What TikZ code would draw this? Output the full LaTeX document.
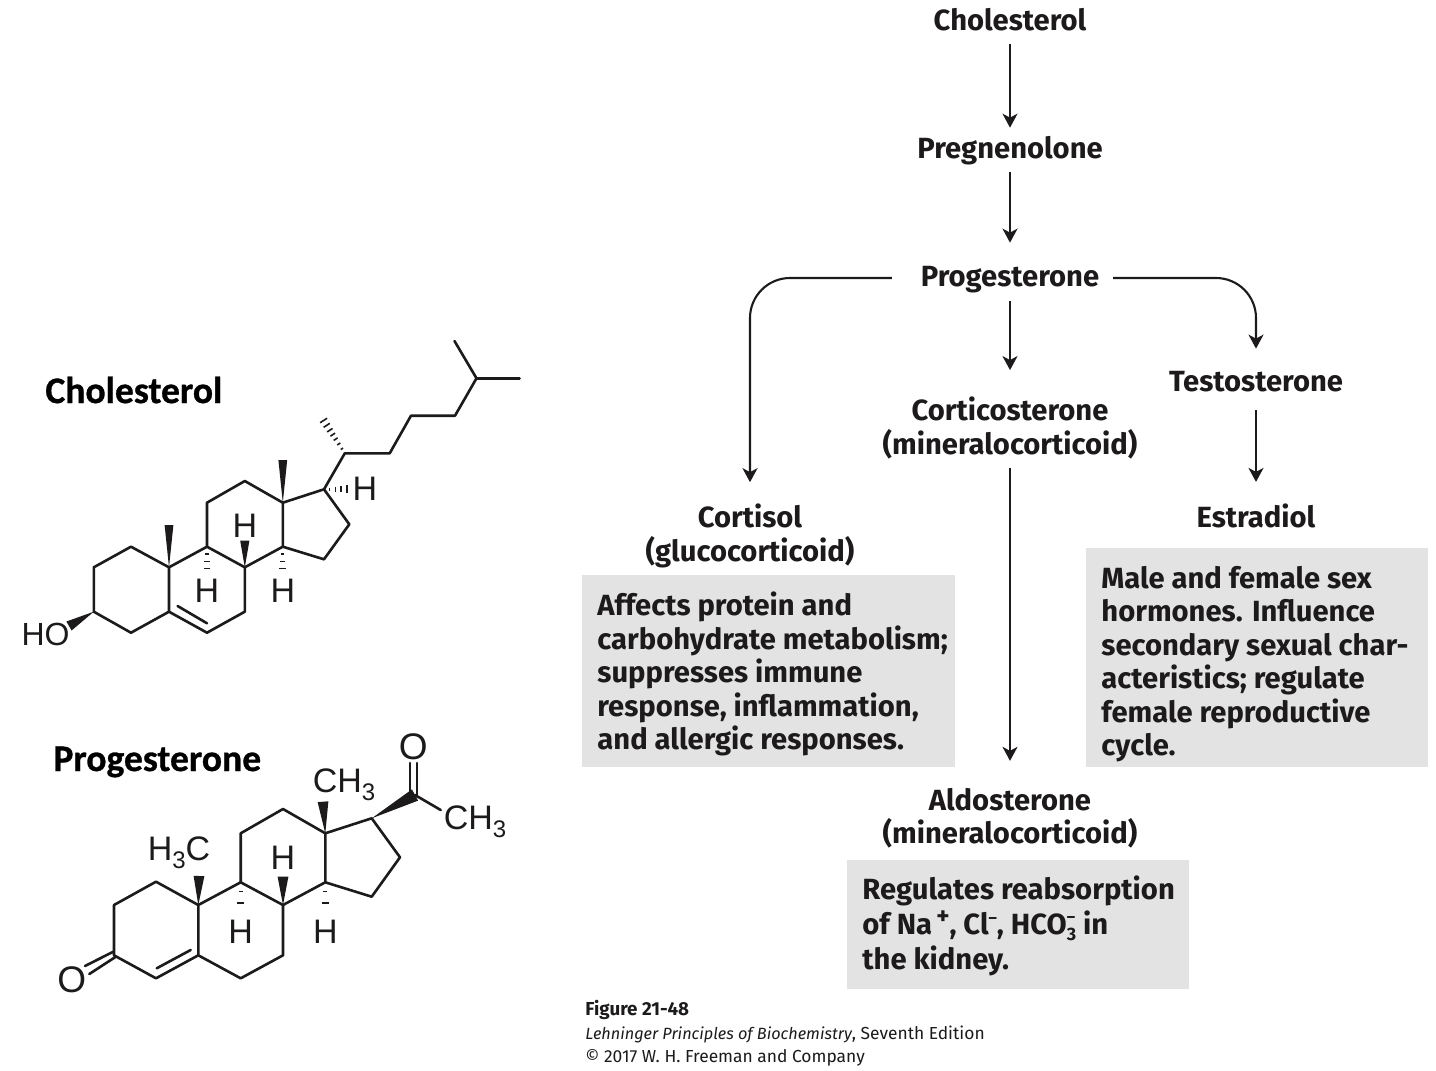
\documentclass[tikz,border=0pt]{standalone}
\usepackage{fontspec}
\setmainfont{Fira Sans}
\newfontfamily\chemfont{Liberation Sans}
\newfontfamily\titlefont[BoldFeatures={FakeBold=0.8}]{Carlito}
\usetikzlibrary{arrows.meta,calc}
\definecolor{boxgray}{HTML}{E3E3E3}
\definecolor{inkc}{HTML}{1C1A1A}
\tikzset{
  lbl/.style={font=\fontsize{14.6}{16.75}\selectfont\bfseries,text=inkc,align=center,inner sep=0pt,outer sep=0pt},
  body/.style={font=\fontsize{14.6}{16.75}\selectfont\bfseries,text=inkc,align=left,inner sep=0pt,anchor=west},
  panel/.style={fill=boxgray,draw=none,inner sep=0pt,anchor=north west},
  arr/.style={-{Stealth[length=7pt,width=7.5pt,inset=2pt]},line width=1.05pt,draw=inkc},
  bond/.style={line width=1.3pt,draw=inkc,line join=round,line cap=round},
  atom/.style={font=\fontsize{17}{18}\chemfont,text=inkc,inner sep=0pt},
  mol/.style={font=\fontsize{18.8}{20}\titlefont\bfseries,text=black,inner sep=0pt},
  captxt/.style={font=\fontsize{8.7}{10}\selectfont,text=inkc,inner sep=0pt,anchor=west},
}
\newcommand{\wbond}[3]{\fill[inkc] (#1) -- ($(#2)!#3!90:(#1)$) -- ($(#2)!#3!-90:(#1)$) -- cycle;}
\newcommand{\hbond}[4]{%
  \foreach \tv in {#4}{%
    \coordinate (hp) at ($(#1)!\tv!(#2)$);
    \pgfmathsetmacro{\hw}{#3*(0.2+0.8*\tv)}
    \draw[inkc,line width=0.8pt] ($(hp)!\hw pt!90:(#2)$) -- ($(hp)!\hw pt!-90:(#2)$);
  }}
\begin{document}
\begin{tikzpicture}[x=0.5pt,y=-0.5pt]
\useasboundingbox[fill=white] (0,0) rectangle (1436,1071);
% panels
\node[panel,minimum width=186.5pt,minimum height=96pt] (pa) at (582,575) {};
\node[panel,minimum width=171pt,minimum height=109.5pt] (pb) at (1086,548) {};
\node[panel,minimum width=171pt,minimum height=64.5pt] (pc) at (847,860) {};
% labels
\node[lbl] (chol) at (1010,20) {Cholesterol};
\node[lbl] (preg) at (1010,151) {Pregnenolone};
\node[lbl] (prog) at (1010,280) {Progesterone};
\node[lbl] (test) at (1256,382) {Testosterone};
\node[lbl] (estr) at (1256,516) {Estradiol};
\node[lbl] (cort) at (1010,428) {Corticosterone\\(mineralocorticoid)};
\node[lbl] (aldo) at (1010,818) {Aldosterone\\(mineralocorticoid)};
\node[lbl] (csol) at (750,536) {Cortisol\\(glucocorticoid)};
% flow arrows
\draw[arr,shorten <=6.5pt,shorten >=4.5pt] (chol) -- (preg);
\draw[arr,shorten <=3.5pt,shorten >=12pt] (preg) -- (prog);
\draw[arr,shorten <=4pt,shorten >=13.5pt] (prog) -- (cort);
\draw[arr,shorten <=4.5pt,shorten >=13.5pt] (cort) -- (aldo);
\draw[arr,shorten <=9pt,shorten >=11pt] (test) -- (estr);
\draw[arr,rounded corners=20pt,shorten <=14.5pt,shorten >=11pt] ([yshift=1pt]prog.west) -| (csol.north);
\draw[arr,rounded corners=20pt,shorten <=7pt,shorten >=11.5pt] ([yshift=1pt]prog.east) -| (test.north);
% panel text
\node[body] (ta) at (597,674) {Affects protein and\\carbohydrate metabolism;\\suppresses immune\\response, inflammation,\\and allergic responses.};
\node[body] (tb) at (1101,664) {Male and female sex\\hormones. Influence\\secondary sexual char-\\acteristics; regulate\\female reproductive\\cycle.};
\node[body,font=\fontsize{14.6}{17.5}\selectfont\bfseries] (tc) at (862,926) {Regulates reabsorption\\of Na\raisebox{5pt}{\fontsize{12.5}{12.5}\selectfont\,+}, Cl\raisebox{5.5pt}{\fontsize{8}{8}\selectfont –}, HCO\rlap{\raisebox{6pt}{\fontsize{8}{8}\selectfont –}}\raisebox{-3pt}{\fontsize{9}{9}\selectfont 3} in\\the kidney.};
% caption
\node[captxt,font=\fontsize{9.4}{10}\selectfont\bfseries] (c1) at (585,1009.5) {Figure 21-48};
\node[captxt] (c2) at (585,1034) {{\fontsize{8.13}{10}\selectfont\itshape Lehninger Principles of Biochemistry}, Seventh Edition};
\node[captxt] (c3) at (585,1058) {© 2017 W. H. Freeman and Company};
% molecule titles
\node[mol,anchor=west] (mt1) at (45,390) {Cholesterol};
\node[mol,anchor=west] (mt2) at (53,762) {Progesterone};
% cholesterol skeleton
\foreach \n/\p in {a1/{131,546.7},a2/{93.8,567.3},a3/{93.8,611.7},a4/{131,632.7},a5/{169,611.7},a6/{207,632.7},a7/{244.8,611.7},a8/{244.8,567.3},a9/{207,546.7},a10/{169,567.3},a11/{207,502.7},a12/{244.8,481},a13/{282.8,502.7},a14/{282.8,546.7},a15/{324,559.3},a16/{349.3,524.3},a17/{324,489.3},a20/{344.8,453.3},a22/{389.7,453.3},a23/{411,415.7},a24/{455,415.7},a25/{476.5,378.3},a26/{454.5,341},a27/{519.6,378.3},am19/{169,525},am18/{282.8,460},ah8/{244.8,540.7},ao/{69,626},ah9/{207,576},ah14/{282.8,576},am21/{320.7,416},ah17/{352.4,489.3},ad1/{177.6,606},ad2/{207,623.3}}
  \coordinate (\n) at (\p);
\draw[bond] (a10)--(a1)--(a2)--(a3)--(a4)--(a5)--(a6)--(a7)--(a8)--(a9)--(a10)--(a5);
\draw[bond] (ad1)--(ad2);
\draw[bond] (a9)--(a11)--(a12)--(a13)--(a14)--(a8);
\draw[bond] (a14)--(a15)--(a16)--(a17)--(a13);
\draw[bond] (a17)--(a20)--(a22)--(a23)--(a24)--(a25)--(a26);
\draw[bond] (a25)--(a27);
\wbond{a10}{am19}{2.2pt}
\wbond{a13}{am18}{2.2pt}
\wbond{a8}{ah8}{2.3pt}
\wbond{a3}{ao}{2.6pt}
\hbond{a9}{ah9}{2.1}{0.25,0.5,0.75,1.0}
\hbond{a14}{ah14}{2.1}{0.25,0.5,0.75,1.0}
\hbond{a20}{am21}{2.3}{0.12,0.25,0.38,0.5,0.62,0.75,0.88,1.0}
\hbond{a17}{ah17}{2.3}{0.2,0.4,0.6,0.8,1.0}
\node[atom] (h1) at (244.8,526) {H};
\node[atom] (h2) at (207,591) {H};
\node[atom] (h3) at (282.8,591) {H};
\node[atom] (h4) at (365,489) {H};
\node[atom,font=\fontsize{16}{18}\chemfont] (ho) at (45.5,634) {HO};
% progesterone skeleton
\foreach \n/\p in {b1/{156,881.7},b2/{114,905},b3/{114,955.3},b4/{156,978.3},b5/{198.3,955.3},b6/{240.7,978.3},b7/{283,955.3},b8/{283,905},b9/{240.7,882.3},b10/{198.3,905},b11/{240.7,833.3},b12/{283,809},b13/{325.3,833.3},b14/{325.3,882.3},b15/{371.7,896.7},b16/{400,857.3},b17/{371.7,818.3},b20/{415,795},bm18/{323,801.7},bm19/{199,876},bh8/{283,876.7},bh9/{240.7,913},bh14/{325.3,913},bd1/{156.7,968.3},bd2/{190.7,950},bo1/{113.3,951.7},bo2/{85,966},bo3/{115,957.3},bo4/{89.3,974},bc1/{410,763},bc2/{410,793},bc3/{417,763},bc4/{417,797},bm/{440.7,810}}
  \coordinate (\n) at (\p);
\draw[bond] (b10)--(b1)--(b2)--(b3)--(b4)--(b5)--(b6)--(b7)--(b8)--(b9)--(b10)--(b5);
\draw[bond] (bd1)--(bd2);
\draw[bond] (bo1)--(bo2);
\draw[bond] (bo3)--(bo4);
\draw[bond] (b9)--(b11)--(b12)--(b13)--(b14)--(b8);
\draw[bond] (b14)--(b15)--(b16)--(b17)--(b13);
\draw[bond] (bc1)--(bc2);
\draw[bond] (bc3)--(bc4);
\draw[bond] (b20)--(bm);
\wbond{b10}{bm19}{2.7pt}
\wbond{b13}{bm18}{2.7pt}
\wbond{b8}{bh8}{2.7pt}
\wbond{b17}{b20}{3.2pt}
\hbond{b9}{bh9}{2.3}{0.3,0.67,1.0}
\hbond{b14}{bh14}{2.3}{0.3,0.67,1.0}
\node[atom] (p1) at (283,858) {H};
\node[atom] (p2) at (240.7,932) {H};
\node[atom] (p3) at (325.3,932) {H};
\node[atom,font=\fontsize{18.5}{18}\chemfont] (p4) at (71.7,980) {O};
\node[atom,font=\fontsize{18.5}{18}\chemfont] (p5) at (413.3,747) {O};
\node[atom] (p6) at (344,785) {CH\raisebox{-4pt}{\fontsize{12}{12}\selectfont 3}};
\node[atom] (p7) at (475,822) {CH\raisebox{-4pt}{\fontsize{12}{12}\selectfont 3}};
\node[atom] (p8) at (179,853) {H\raisebox{-4pt}{\fontsize{12}{12}\selectfont 3}C};
\end{tikzpicture}
\end{document}
